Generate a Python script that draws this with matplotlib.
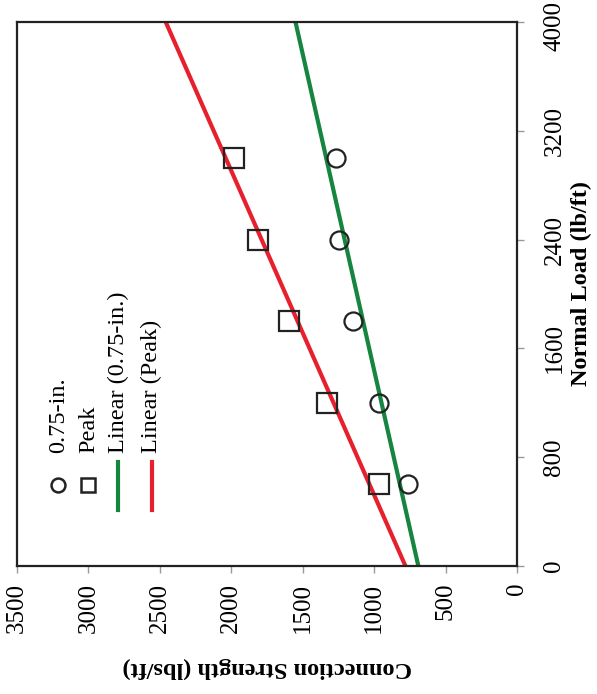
import numpy as np
import matplotlib
matplotlib.use("Agg")
import matplotlib.pyplot as plt
from matplotlib.transforms import ScaledTranslation

# 数据
normal_load = [600, 1200, 1800, 2400, 3000]
strength_075 = [761, 966, 1150, 1244, 1267]
strength_peak = [964, 1328, 1594, 1815, 1979]
load_ticks = [0, 800, 1600, 2400, 3200, 4000]
strength_ticks = [0, 500, 1000, 1500, 2000, 2500, 3000, 3500]
legend_labels = ["0.75-in.", "Peak", "Linear (0.75-in.)", "Linear (Peak)"]

green = "#15853f"
red = "#e6202c"

plt.rcParams["font.family"] = ["Liberation Serif", "DejaVu Serif"]

fig = plt.figure(figsize=(5.97, 6.94), dpi=100)
ax = fig.add_axes([17 / 597, 128 / 694, 500 / 597, 544 / 694])

# 线性拟合
fit_load = np.array([0, 4000])
k1, b1 = np.polyfit(normal_load, strength_075, 1)
k2, b2 = np.polyfit(normal_load, strength_peak, 1)

# 整个图是旋转过的：横轴 = 连接强度（反向），纵轴 = 法向荷载
ax.plot(k1 * fit_load + b1, fit_load, color=green, lw=3, zorder=2)
ax.plot(k2 * fit_load + b2, fit_load, color=red, lw=3, zorder=2)
ax.plot(strength_075, normal_load, 'o', ms=13, mfc='none', mec='#222222', mew=1.6, zorder=3)
ax.plot(strength_peak, normal_load, 's', ms=14, mfc='none', mec='#222222', mew=1.6, zorder=3)

ax.set_xlim(3500, 0)
ax.set_ylim(0, 4000)
ax.set_xticks(strength_ticks)
ax.set_yticks(load_ticks)
ax.yaxis.tick_right()
ax.tick_params(axis='x', direction='out', length=5, width=1, color='#999999',
               labelsize=18, labelrotation=90, pad=7)
ax.tick_params(axis='y', direction='out', length=5, width=1, color='#999999',
               labelsize=18, labelrotation=90, pad=14)
for lab in ax.get_yticklabels():
    lab.set_verticalalignment('center')
# 最上面的 4000 稍微往下挪一点，免得被裁掉
top_lab = ax.yaxis.get_major_ticks()[-1].label2
top_lab.set_transform(top_lab.get_transform() +
                      ScaledTranslation(0, -3 / 72, fig.dpi_scale_trans))
for s in ax.spines.values():
    s.set_linewidth(1.6)
    s.set_color('#222222')

ax.set_xlabel("Connection Strength (lbs/ft)", fontsize=17.5, fontweight='bold',
              rotation=180, va='center')
ax.xaxis.set_label_coords(0.5, -0.1875)
ax.yaxis.set_label_position('right')
ax.set_ylabel("Normal Load (lb/ft)", fontsize=17.5, fontweight='bold',
              rotation=90, va='center')
ax.yaxis.set_label_coords(1.128, 0.52)

# 图例（旋转90度，手动画）
lx = [0.0826, 0.1426, 0.2026, 0.269]
ax.plot(lx[0], 0.149, 'o', ms=10, mfc='none', mec='#222222', mew=1.8,
        transform=ax.transAxes, clip_on=False)
ax.plot(lx[1], 0.149, 's', ms=10, mfc='none', mec='#222222', mew=1.8,
        transform=ax.transAxes, clip_on=False)
ax.plot([lx[2], lx[2]], [0.103, 0.192], color=green, lw=3, transform=ax.transAxes)
ax.plot([lx[3], lx[3]], [0.103, 0.192], color=red, lw=3, transform=ax.transAxes)
for x, t in zip(lx, legend_labels):
    ax.text(x, 0.2077, t, rotation=90, fontsize=17.5, ha='center', va='bottom',
            transform=ax.transAxes)

fig.savefig("out.png", dpi=100)
